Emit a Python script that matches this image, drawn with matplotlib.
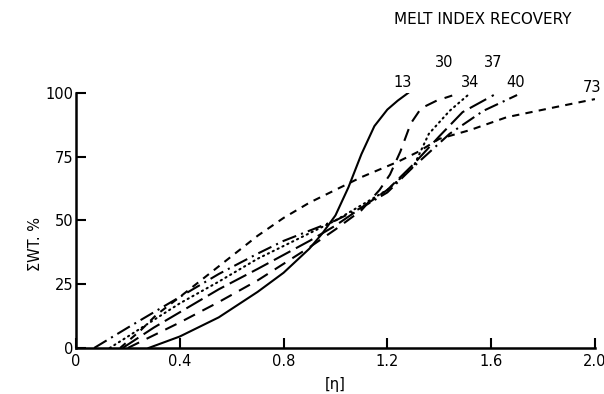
import matplotlib
matplotlib.use("Agg")
import matplotlib.pyplot as plt

# cumulative wt % vs intrinsic viscosity, one curve per melt index recovery
x13 = [0.28, 0.4, 0.55, 0.7, 0.8, 0.9, 0.95, 1.0, 1.05, 1.1, 1.15, 1.2, 1.24, 1.28]
y13 = [0, 4.5, 12, 22, 29.5, 39, 45, 52, 63, 76, 87, 93.5, 97, 100]

x30 = [0.2, 0.3, 0.4, 0.55, 0.7, 0.8, 0.9, 1.0, 1.1, 1.17, 1.21, 1.25, 1.29, 1.33, 1.39, 1.45]
y30 = [0, 5, 10, 18, 26.5, 33, 39.5, 46.5, 54, 62, 68, 77, 88, 94, 97, 99]

x34 = [0.13, 0.2, 0.3, 0.4, 0.55, 0.7, 0.8, 0.9, 1.0, 1.1, 1.2, 1.3, 1.36, 1.44, 1.52]
y34 = [0, 4.5, 11, 17.5, 26, 35, 40, 45, 50, 56, 62, 71, 84, 93, 100]

x37 = [0.18, 0.3, 0.4, 0.55, 0.7, 0.8, 0.9, 1.0, 1.1, 1.2, 1.3, 1.4, 1.49, 1.61]
y37 = [0, 8, 14, 23, 31, 36.5, 42, 48, 55, 62, 72, 83, 92.5, 99.2]

x40 = [0.07, 0.2, 0.3, 0.4, 0.55, 0.7, 0.8, 0.9, 1.0, 1.1, 1.2, 1.3, 1.44, 1.57, 1.70]
y40 = [0, 8, 14, 20, 29, 37, 42, 46, 50, 55, 61, 71, 84, 93, 99.2]

x73 = [0.17, 0.25, 0.31, 0.4, 0.5, 0.6, 0.7, 0.8, 0.9, 1.0, 1.1, 1.24, 1.32, 1.40, 1.52, 1.66, 1.85, 2.0]
y73 = [0, 7, 13, 20, 28, 36, 44, 51, 57, 62, 67, 73, 77, 82, 85.5, 90.5, 94.5, 97.6]

labels = ["13", "30", "34", "37", "40", "73"]
label_x = [1.26, 1.42, 1.518, 1.607, 1.696, 1.99]
label_y = [104, 112, 104, 112, 104, 102]

xticks = [0, 0.4, 0.8, 1.2, 1.6, 2.0]
xticklabels = ["0", "0.4", "0.8", "1.2", "1.6", "2.0"]
yticks = [0, 25, 50, 75, 100]

plt.rcParams['font.family'] = ['DejaVu Sans']

fig = plt.figure(figsize=(6.04, 3.94), dpi=100)
ax = fig.add_axes([0.1258, 0.1168, 0.8592, 0.6472])

lw = 1.5
ax.plot(x13, y13, color='k', lw=lw, ls='-')
ax.plot(x30, y30, color='k', lw=lw, ls=(0, (6, 4)))
ax.plot(x34, y34, color='k', lw=lw, ls=(0, (0.6, 2.0)), dash_capstyle='round')
ax.plot(x37, y37, color='k', lw=lw, ls=(0, (9, 3)))
ax.plot(x40, y40, color='k', lw=lw, ls=(0, (7, 2.5, 1, 2.5)))
ax.plot(x73, y73, color='k', lw=lw, ls=(0, (3.5, 3)))

for t, tx, ty in zip(labels, label_x, label_y):
    ax.text(tx, ty, t, ha='center', va='center', fontsize=10.5, clip_on=False)

ax.set_xlim(0, 2.0)
ax.set_ylim(0, 100)
ax.set_xticks(xticks)
ax.set_xticklabels(xticklabels)
ax.set_yticks(yticks)
ax.tick_params(direction='in', length=7, width=1.5, labelsize=10.5)
ax.tick_params(axis='x', pad=4)
ax.tick_params(axis='y', pad=2)
for s in ['top', 'right']:
    ax.spines[s].set_visible(False)
for s in ['left', 'bottom']:
    ax.spines[s].set_linewidth(1.8)

fig.text(0.058, 0.38, "ΣWT. %", rotation=90, ha='center', va='center', fontsize=10.5)
fig.text(0.555, 0.025, "[η]", ha='center', va='center', fontsize=10.5)
fig.text(0.80, 0.95, "MELT INDEX RECOVERY", ha='center', va='center', fontsize=11)

fig.savefig("out.png", dpi=100)
